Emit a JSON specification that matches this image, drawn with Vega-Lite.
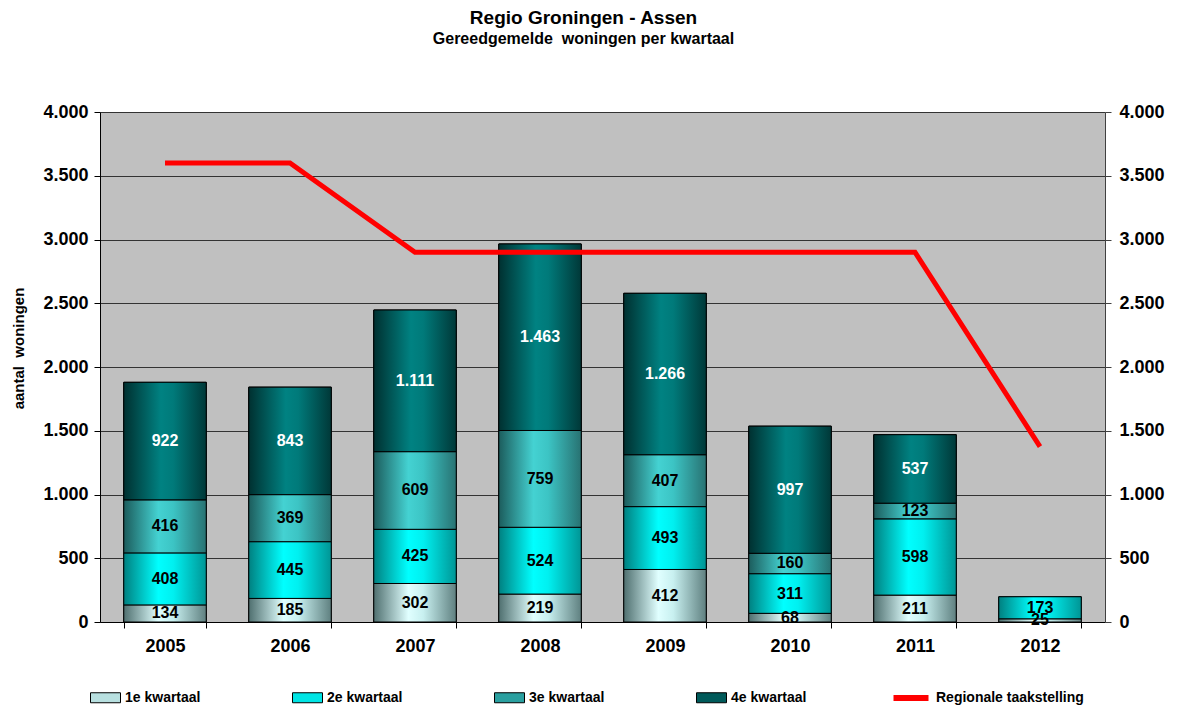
{
  "$schema": "https://vega.github.io/schema/vega-lite/v6.json",
  "width": 1005,
  "height": 510,
  "autosize": "none",
  "padding": {"left": 100, "top": 112, "right": 77, "bottom": 84},
  "background": "white",
  "title": {
    "text": "Regio Groningen - Assen",
    "subtitle": "Gereedgemelde\u00a0 woningen per kwartaal",
    "anchor": "middle",
    "frame": "group",
    "font": "Liberation Sans",
    "fontSize": 19,
    "fontWeight": "bold",
    "color": "black",
    "subtitleFont": "Liberation Sans",
    "subtitleFontSize": 16,
    "subtitleFontWeight": "bold",
    "subtitleColor": "black",
    "subtitlePadding": 3,
    "offset": 56,
    "dx": -19
  },
  "datasets": {
    "bars": [
      {"jaar": "2005", "kwartaal": "1e kwartaal", "aantal": 134},
      {"jaar": "2005", "kwartaal": "2e kwartaal", "aantal": 408},
      {"jaar": "2005", "kwartaal": "3e kwartaal", "aantal": 416},
      {"jaar": "2005", "kwartaal": "4e kwartaal", "aantal": 922},
      {"jaar": "2006", "kwartaal": "1e kwartaal", "aantal": 185},
      {"jaar": "2006", "kwartaal": "2e kwartaal", "aantal": 445},
      {"jaar": "2006", "kwartaal": "3e kwartaal", "aantal": 369},
      {"jaar": "2006", "kwartaal": "4e kwartaal", "aantal": 843},
      {"jaar": "2007", "kwartaal": "1e kwartaal", "aantal": 302},
      {"jaar": "2007", "kwartaal": "2e kwartaal", "aantal": 425},
      {"jaar": "2007", "kwartaal": "3e kwartaal", "aantal": 609},
      {"jaar": "2007", "kwartaal": "4e kwartaal", "aantal": 1111},
      {"jaar": "2008", "kwartaal": "1e kwartaal", "aantal": 219},
      {"jaar": "2008", "kwartaal": "2e kwartaal", "aantal": 524},
      {"jaar": "2008", "kwartaal": "3e kwartaal", "aantal": 759},
      {"jaar": "2008", "kwartaal": "4e kwartaal", "aantal": 1463},
      {"jaar": "2009", "kwartaal": "1e kwartaal", "aantal": 412},
      {"jaar": "2009", "kwartaal": "2e kwartaal", "aantal": 493},
      {"jaar": "2009", "kwartaal": "3e kwartaal", "aantal": 407},
      {"jaar": "2009", "kwartaal": "4e kwartaal", "aantal": 1266},
      {"jaar": "2010", "kwartaal": "1e kwartaal", "aantal": 68},
      {"jaar": "2010", "kwartaal": "2e kwartaal", "aantal": 311},
      {"jaar": "2010", "kwartaal": "3e kwartaal", "aantal": 160},
      {"jaar": "2010", "kwartaal": "4e kwartaal", "aantal": 997},
      {"jaar": "2011", "kwartaal": "1e kwartaal", "aantal": 211},
      {"jaar": "2011", "kwartaal": "2e kwartaal", "aantal": 598},
      {"jaar": "2011", "kwartaal": "3e kwartaal", "aantal": 123},
      {"jaar": "2011", "kwartaal": "4e kwartaal", "aantal": 537},
      {"jaar": "2012", "kwartaal": "1e kwartaal", "aantal": 25},
      {"jaar": "2012", "kwartaal": "2e kwartaal", "aantal": 173}
    ],
    "doel": [
      {"jaar": "2005", "taakstelling": 3600},
      {"jaar": "2006", "taakstelling": 3600},
      {"jaar": "2007", "taakstelling": 2900},
      {"jaar": "2008", "taakstelling": 2900},
      {"jaar": "2009", "taakstelling": 2900},
      {"jaar": "2010", "taakstelling": 2900},
      {"jaar": "2011", "taakstelling": 2900},
      {"jaar": "2012", "taakstelling": 1375}
    ]
  },
  "layer": [
    {
      "data": {"name": "bars"},
      "mark": {"type": "bar", "stroke": "black", "strokeWidth": 1},
      "encoding": {
        "x": {
          "field": "jaar", "type": "nominal",
          "scale": {"paddingInner": 0.34, "paddingOuter": 0.19},
          "axis": {"title": null, "labelAngle": 0, "tickBand": "extent", "tickSize": 6, "labelPadding": 9, "domainColor": "black", "tickColor": "black"}
        },
        "y": {
          "field": "aantal", "type": "quantitative", "stack": "zero",
          "scale": {"domain": [0, 4000], "nice": false},
          "axis": {
            "orient": "left",
            "values": [0, 500, 1000, 1500, 2000, 2500, 3000, 3500, 4000],
            "format": ",d",
            "grid": true, "gridColor": "#333333", "gridWidth": 1, "gridOpacity": 1,
            "tickSize": 6, "labelPadding": 6,
            "title": "aantal\u00a0 woningen",
            "titleFontSize": 15, "titleFontWeight": "bold", "titleFont": "Liberation Sans", "titleColor": "black",
            "titleX": -82, "titleY": 236, "titleAngle": -90, "titleAlign": "center", "titleBaseline": "middle"
          }
        },
        "color": {
          "field": "kwartaal", "type": "nominal",
          "scale": {
            "domain": ["1e kwartaal", "2e kwartaal", "3e kwartaal", "4e kwartaal"],
            "range": ["#b8e0e0", "#00e5e5", "#2aa0a0", "#005a5a"]
          },
          "legend": {
            "orient": "none", "legendX": -5, "legendY": 575,
            "direction": "horizontal", "columns": 4, "title": null,
            "symbolType": "M-1.5,-0.5H1.5V0.5H-1.5Z", "symbolSize": 400,
            "symbolStrokeColor": "black", "symbolStrokeWidth": 1,
            "columnPadding": 89, "labelOffset": 9
          }
        },
        "order": {"field": "kwartaal"}
      }
    },
    {
      "data": {"name": "bars"},
      "transform": [
        {"stack": "aantal", "groupby": ["jaar"], "sort": [{"field": "kwartaal"}], "as": ["y0", "y1"]},
        {"filter": "datum.kwartaal === '1e kwartaal'"}
      ],
      "mark": {"type": "bar", "stroke": "black", "strokeWidth": 1,
        "fill": {"gradient": "linear", "x1": 0, "y1": 0, "x2": 1, "y2": 0,
          "stops": [{"offset": 0, "color": "#4f6f6f"}, {"offset": 0.42, "color": "#e0ffff"}, {"offset": 0.6, "color": "#c8f0f0"}, {"offset": 1, "color": "#5f8080"}]}},
      "encoding": {
        "x": {"field": "jaar", "type": "nominal"},
        "y": {"field": "y0", "type": "quantitative", "scale": {"domain": [0, 4000], "nice": false}, "axis": null},
        "y2": {"field": "y1"}
      }
    },
    {
      "data": {"name": "bars"},
      "transform": [
        {"stack": "aantal", "groupby": ["jaar"], "sort": [{"field": "kwartaal"}], "as": ["y0", "y1"]},
        {"filter": "datum.kwartaal === '2e kwartaal'"}
      ],
      "mark": {"type": "bar", "stroke": "black", "strokeWidth": 1,
        "fill": {"gradient": "linear", "x1": 0, "y1": 0, "x2": 1, "y2": 0,
          "stops": [{"offset": 0, "color": "#008080"}, {"offset": 0.42, "color": "#00ffff"}, {"offset": 0.6, "color": "#00f0f0"}, {"offset": 1, "color": "#009595"}]}},
      "encoding": {
        "x": {"field": "jaar", "type": "nominal"},
        "y": {"field": "y0", "type": "quantitative", "scale": {"domain": [0, 4000], "nice": false}, "axis": null},
        "y2": {"field": "y1"}
      }
    },
    {
      "data": {"name": "bars"},
      "transform": [
        {"stack": "aantal", "groupby": ["jaar"], "sort": [{"field": "kwartaal"}], "as": ["y0", "y1"]},
        {"filter": "datum.kwartaal === '3e kwartaal'"}
      ],
      "mark": {"type": "bar", "stroke": "black", "strokeWidth": 1,
        "fill": {"gradient": "linear", "x1": 0, "y1": 0, "x2": 1, "y2": 0,
          "stops": [{"offset": 0, "color": "#1c5c5c"}, {"offset": 0.42, "color": "#44d2d2"}, {"offset": 0.6, "color": "#3cc4c4"}, {"offset": 1, "color": "#287272"}]}},
      "encoding": {
        "x": {"field": "jaar", "type": "nominal"},
        "y": {"field": "y0", "type": "quantitative", "scale": {"domain": [0, 4000], "nice": false}, "axis": null},
        "y2": {"field": "y1"}
      }
    },
    {
      "data": {"name": "bars"},
      "transform": [
        {"stack": "aantal", "groupby": ["jaar"], "sort": [{"field": "kwartaal"}], "as": ["y0", "y1"]},
        {"filter": "datum.kwartaal === '4e kwartaal'"}
      ],
      "mark": {"type": "bar", "stroke": "black", "strokeWidth": 1,
        "fill": {"gradient": "linear", "x1": 0, "y1": 0, "x2": 1, "y2": 0,
          "stops": [{"offset": 0, "color": "#003030"}, {"offset": 0.45, "color": "#008282"}, {"offset": 0.6, "color": "#007a7a"}, {"offset": 1, "color": "#003838"}]}},
      "encoding": {
        "x": {"field": "jaar", "type": "nominal"},
        "y": {"field": "y0", "type": "quantitative", "scale": {"domain": [0, 4000], "nice": false}, "axis": null},
        "y2": {"field": "y1"}
      }
    },
    {
      "data": {"name": "bars"},
      "transform": [
        {"stack": "aantal", "groupby": ["jaar"], "sort": [{"field": "kwartaal"}], "as": ["y0", "y1"]},
        {"calculate": "(datum.y0 + datum.y1) / 2", "as": "midden"}
      ],
      "mark": {"type": "text", "font": "Liberation Sans", "fontSize": 16, "fontWeight": "bold", "baseline": "middle", "align": "center"},
      "encoding": {
        "x": {"field": "jaar", "type": "nominal"},
        "y": {"field": "midden", "type": "quantitative", "scale": {"domain": [0, 4000], "nice": false}, "axis": null},
        "text": {"field": "aantal", "type": "quantitative", "format": ",d"},
        "color": {"condition": {"test": "datum.kwartaal === '4e kwartaal'", "value": "white"}, "value": "black"}
      }
    },
    {
      "data": {"name": "doel"},
      "mark": {"type": "line", "strokeWidth": 5, "strokeCap": "butt", "strokeJoin": "miter"},
      "encoding": {
        "x": {"field": "jaar", "type": "nominal"},
        "y": {
          "field": "taakstelling", "type": "quantitative",
          "scale": {"domain": [0, 4000], "nice": false},
          "axis": {
            "orient": "right",
            "values": [0, 500, 1000, 1500, 2000, 2500, 3000, 3500, 4000],
            "format": ",d", "grid": false, "tickSize": 6, "labelPadding": 8,
            "title": null, "domainColor": "#404040", "tickColor": "#404040"
          }
        },
        "stroke": {
          "datum": "Regionale taakstelling", "type": "nominal",
          "scale": {"domain": ["Regionale taakstelling"], "range": ["#ff0000"]},
          "legend": {
            "orient": "none", "legendX": 798, "legendY": 573, "title": null,
            "symbolType": "M-1.75,0H1.75", "symbolSize": 400, "symbolStrokeWidth": 6,
            "symbolFillColor": "transparent", "labelOffset": 12
          }
        }
      }
    }
  ],
  "resolve": {"axis": {"y": "independent"}},
  "config": {
    "locale": {"number": {"decimal": ",", "thousands": ".", "grouping": [3], "currency": ["€", ""]}},
    "view": {"fill": "#c0c0c0", "stroke": null},
    "axis": {
      "labelFont": "Liberation Sans", "labelFontWeight": "bold", "labelFontSize": 18, "labelColor": "black",
      "domainColor": "black", "tickColor": "black", "domainWidth": 1, "tickWidth": 1
    },
    "legend": {
      "labelFont": "Liberation Sans", "labelFontWeight": "bold", "labelFontSize": 14, "labelColor": "black",
      "padding": 0
    }
  }
}
